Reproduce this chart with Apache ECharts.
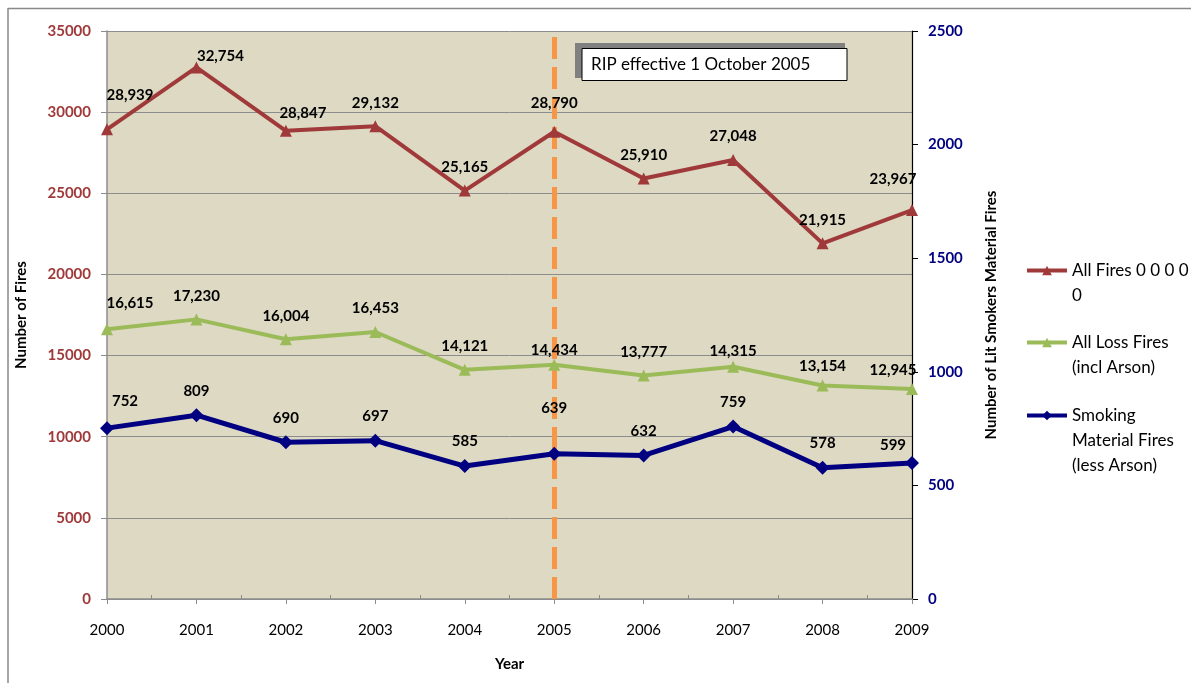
<!DOCTYPE html>
<html>
<head>
<meta charset="utf-8">
<script src="https://cdn.jsdelivr.net/npm/echarts@6/dist/echarts.min.js"></script>
<style>
  html, body { margin: 0; padding: 0; background: #fff; }
  #chart { width: 1191px; height: 683px; }
</style>
</head>
<body>
<div id="chart"></div>
<script>
// Fire counts by year, before and after the RIP cigarette standard
const years = ['2000', '2001', '2002', '2003', '2004', '2005', '2006', '2007', '2008', '2009'];
const allFires = [28939, 32754, 28847, 29132, 25165, 28790, 25910, 27048, 21915, 23967];
const allLossFires = [16615, 17230, 16004, 16453, 14121, 14434, 13777, 14315, 13154, 12945];
const smokingFires = [752, 809, 690, 697, 585, 639, 632, 759, 578, 599];
const seriesNames = ['All Fires 0 0 0 0 0', 'All Loss Fires (incl Arson)', 'Smoking Material Fires (less Arson)'];
const legendLines = [['All Fires 0 0 0 0', '0'], ['All Loss Fires', '(incl Arson)'], ['Smoking', 'Material Fires', '(less Arson)']];
const markerYear = '2005';
const markerText = 'RIP effective 1 October 2005';

const FONT = 'Lato, "Open Sans", sans-serif';
const RED = '#A0393A';
const GREEN = '#9BBB59';
const NAVY = '#000080';

// hand-placed label nudges (px) so labels clear the lines: index -> [dx, dy]
const labelNudge = [
  { 0: [23, -11], 1: [24, 12], 2: [17, 6], 5: [0, -5], 9: [-19, -7] },
  { 0: [23, -3], 5: [0, 9], 7: [0, 8], 8: [0, 4], 9: [-19, 5] },
  { 0: [18, -2], 5: [0, -21], 9: [-19, 7] }
];

const chart = echarts.init(document.getElementById('chart'), null, { renderer: 'canvas' });

function withNudges(values, nudges) {
  return values.map((v, i) => nudges[i] ? { value: v, label: { offset: nudges[i] } } : v);
}

const thousands = p => Number(p.value).toLocaleString('en-US');

const labelStyle = {
  show: true,
  position: 'top',
  distance: 10,
  fontFamily: FONT,
  fontWeight: 'bold',
  fontSize: 15,
  color: '#000'
};

// legend text: icon sits on the first line of each entry
function legendFor(idx, top) {
  const lines = legendLines[idx];
  const pad = new Array(lines.length - 1).fill('');
  return {
    orient: 'vertical',
    left: 1025,
    top: top,
    padding: 0,
    itemWidth: 40,
    itemHeight: 12,
    selectedMode: false,
    data: [seriesNames[idx]],
    lineStyle: { width: 4 },
    formatter: () => pad.concat(lines).join('\n'),
    textStyle: { fontFamily: FONT, fontSize: 17, lineHeight: 25, color: '#000', padding: 0 }
  };
}

const option = {
  backgroundColor: '#fff',
  animation: false,
  grid: {
    left: 107, right: 279, top: 31, bottom: 84,
    show: true, backgroundColor: '#DDD9C3', borderWidth: 0
  },
  legend: [legendFor(0, 233), legendFor(1, 305), legendFor(2, 353)],
  xAxis: [
    {
      type: 'category',
      data: years,
      boundaryGap: false,
      name: 'Year',
      nameLocation: 'middle',
      nameGap: 58,
      nameTextStyle: { fontFamily: FONT, fontWeight: 'bold', fontSize: 15, color: '#000' },
      axisLine: { lineStyle: { color: '#8C8C8C', width: 1.5 } },
      axisTick: { show: true, length: 5, lineStyle: { color: '#8C8C8C' } },
      axisLabel: { fontFamily: FONT, fontSize: 15, color: '#000', margin: 24 },
      splitLine: { show: false }
    },
    {
      // half-way tick marks between years
      type: 'category',
      data: years.slice(1).map(() => ''),
      boundaryGap: true,
      position: 'bottom',
      axisLine: { show: false },
      axisTick: { show: true, alignWithLabel: true, inside: true, length: 4, lineStyle: { color: '#8C8C8C' } },
      axisLabel: { show: false },
      splitLine: { show: false }
    }
  ],
  yAxis: [
    {
      type: 'value',
      min: 0, max: 35000, interval: 5000,
      name: 'Number of Fires',
      nameLocation: 'middle',
      nameRotate: 90,
      nameGap: 78,
      nameTextStyle: { fontFamily: FONT, fontWeight: 'bold', fontSize: 15, color: '#000' },
      axisLine: { show: true, lineStyle: { color: '#8C8C8C', width: 1.5 } },
      axisTick: { show: true, length: 6, lineStyle: { color: '#8C8C8C' } },
      axisLabel: { fontFamily: FONT, fontWeight: 'bold', fontSize: 15, color: RED, margin: 16, formatter: v => String(v) },
      splitLine: { show: true, lineStyle: { color: '#8C8C8C', width: 1 } }
    },
    {
      type: 'value',
      min: 0, max: 2500, interval: 500,
      position: 'right',
      name: 'Number of Lit Smokers Material Fires',
      nameLocation: 'middle',
      nameRotate: 90,
      nameGap: 72,
      nameTextStyle: { fontFamily: FONT, fontWeight: 'bold', fontSize: 15, color: '#000' },
      axisLine: { show: true, lineStyle: { color: '#000', width: 1.2 } },
      axisTick: { show: true, length: 6, lineStyle: { color: '#000' } },
      axisLabel: { fontFamily: FONT, fontWeight: 'bold', fontSize: 15, color: NAVY, margin: 16, formatter: v => String(v) },
      splitLine: { show: false }
    }
  ],
  series: [
    {
      // dashed marker for the RIP effective date
      name: 'marker',
      type: 'line',
      data: [],
      z: 1,
      markLine: {
        silent: true,
        z: 1,
        symbol: 'none',
        label: { show: false },
        lineStyle: { color: '#F79646', width: 5, type: [22, 8] },
        data: [{ xAxis: markerYear }]
      }
    },
    {
      name: seriesNames[0],
      type: 'line',
      data: withNudges(allFires, labelNudge[0]),
      yAxisIndex: 0,
      z: 3,
      color: RED,
      lineStyle: { color: RED, width: 4 },
      symbol: 'triangle',
      symbolSize: 12,
      itemStyle: { color: RED },
      label: Object.assign({}, labelStyle, { formatter: thousands })
    },
    {
      name: seriesNames[1],
      type: 'line',
      data: withNudges(allLossFires, labelNudge[1]),
      yAxisIndex: 0,
      z: 3,
      color: GREEN,
      lineStyle: { color: GREEN, width: 4 },
      symbol: 'triangle',
      symbolSize: 12,
      itemStyle: { color: GREEN },
      label: Object.assign({}, labelStyle, { formatter: thousands })
    },
    {
      name: seriesNames[2],
      type: 'line',
      data: withNudges(smokingFires, labelNudge[2]),
      yAxisIndex: 1,
      z: 3,
      color: NAVY,
      lineStyle: { color: NAVY, width: 5 },
      symbol: 'diamond',
      symbolSize: 14,
      itemStyle: { color: NAVY },
      label: Object.assign({}, labelStyle, { formatter: p => String(p.value) })
    }
  ],
  graphic: [
    // outer frame
    { type: 'line', silent: true, shape: { x1: 8, y1: 8.5, x2: 1191, y2: 8.5 }, style: { stroke: '#888', lineWidth: 1.5 } },
    { type: 'line', silent: true, shape: { x1: 8, y1: 8, x2: 8, y2: 683 }, style: { stroke: '#888', lineWidth: 1.5 } },
    // annotation box with shadow
    { type: 'rect', silent: true, z: 10, shape: { x: 575, y: 43, width: 270, height: 35 }, style: { fill: '#808080' } },
    { type: 'rect', silent: true, z: 11, shape: { x: 582, y: 48.5, width: 265, height: 32 }, style: { fill: '#fff', stroke: '#000', lineWidth: 1 } },
    { type: 'text', silent: true, z: 12, x: 591, y: 65, style: { text: markerText, fontFamily: FONT, fontSize: 17, fill: '#000', verticalAlign: 'middle' } }
  ]
};

chart.setOption(option);
</script>
</body>
</html>
